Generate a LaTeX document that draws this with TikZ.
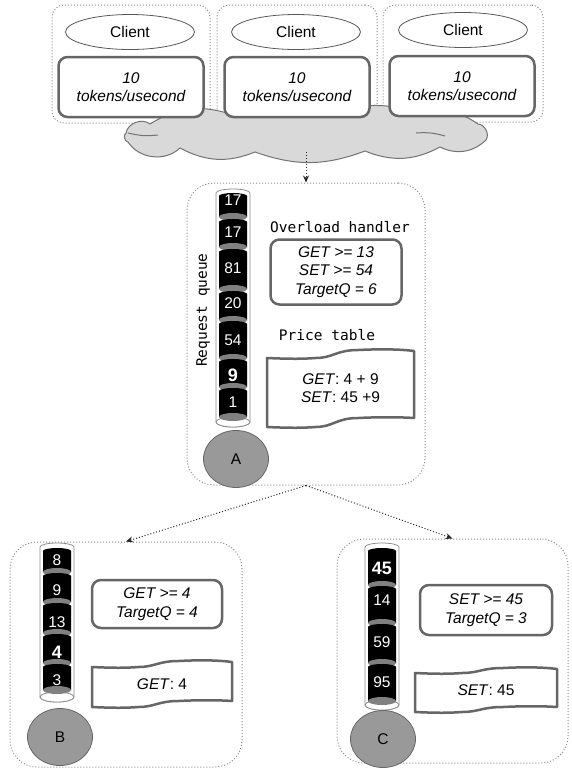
\documentclass[tikz,border=0pt]{standalone}
\usepackage{fontspec}
\setmainfont{Liberation Sans}
\setmonofont{DejaVu Sans Mono}
\usepackage{tikz}
\usetikzlibrary{arrows.meta}
\usetikzlibrary{positioning}
\usetikzlibrary{shapes.geometric}

\newcommand{\hot}[1]{{\fontsize{18}{18}\selectfont\bfseries #1}}

% queue: name, x centre, top, bottom, cells label/top/bottom/text y
\newcommand{\queue}[5]{%
    \draw[tube] (#2-17,#3) arc(180:360:17 and 4) -- (#2+17,#4) arc(0:180:17 and 5) -- cycle;
    \draw[tube] (#2,#4) ellipse (17 and 5);
    \foreach \l/\t/\b/\y [count=\i] in {#5} {
        \fill[black] (#2-14,\t) arc(180:360:14 and 3) -- (#2+14,\b) -- (#2-14,\b) -- cycle;
        \fill[band] (#2,\b) ellipse (14 and 4);
        \node[num] (#1\i) at (#2,\y) {\l};
    }
}

% price table: name, x0, x1, top left, top right, bottom left, bottom right
\newcommand{\pricetag}[7]{%
    \draw[tag] (#2,#4) .. controls ({#2+0.15*(#3-#2)},{#4+1}) and ({#2+0.25*(#3-#2)},{#4+1}) .. ({#2+0.33*(#3-#2)},#4)
        .. controls ({#2+0.45*(#3-#2)},#4) and ({#2+0.47*(#3-#2)},#5) .. ({#2+0.62*(#3-#2)},#5)
        .. controls ({#2+0.75*(#3-#2)},{#5-1}) and ({#2+0.9*(#3-#2)},{#5-1}) .. (#3,{#5+1})
        -- (#3,#7)
        .. controls ({#2+0.9*(#3-#2)},{#7-1}) and ({#2+0.75*(#3-#2)},{#7-1}) .. ({#2+0.62*(#3-#2)},#7)
        .. controls ({#2+0.47*(#3-#2)},#7) and ({#2+0.45*(#3-#2)},#6) .. ({#2+0.33*(#3-#2)},#6)
        .. controls ({#2+0.25*(#3-#2)},{#6+1}) and ({#2+0.15*(#3-#2)},{#6+1}) .. (#2,#6)
        -- cycle;
    \coordinate (#1) at ({(#2+#3)/2},{(#4+#7)/2});
}

\begin{document}
\begin{tikzpicture}[x=1pt, y=-1pt, >=Stealth, font=\fontsize{15.5}{18.5}\selectfont]
    \tikzset{
        group/.style={draw=black!45, dotted, line width=1pt, rounded corners=12pt},
        bigbox/.style={draw=black!45, dotted, line width=1pt, rounded corners=27pt},
        client/.style={ellipse, draw=black!65, fill=white, line width=0.8pt, minimum width=129pt, minimum height=35pt},
        rate/.style={draw=black!60, fill=white, line width=2.5pt, rounded corners=9pt, align=center, font=\fontsize{15.5}{18.5}\selectfont\itshape},
        handler/.style={rate},
        tag/.style={draw=black!60, fill=white, line width=2.5pt, line join=round},
        tube/.style={draw=black!45, fill=white, line width=0.8pt},
        band/.style={fill=black!50},
        num/.style={text=white, inner sep=0pt},
        server/.style={ellipse, draw=black!60, fill=black!40, line width=0.8pt, minimum width=65pt, minimum height=57pt},
        mono/.style={font=\fontsize{14.5}{17}\selectfont\ttfamily},
        puff/.style={fill=black!15, draw=black!55, line width=1pt},
        flow/.style={->, dotted, line width=1pt, draw=black!85, >={Stealth[length=7pt,width=6pt]}}
    }
    \useasboundingbox (0,0) rectangle (572,772);

    % clients
    \node[group, minimum width=158pt, minimum height=118pt] (grp1) at (131,64) {};
    \node[group, minimum width=160pt, minimum height=118pt] (grp2) at (297,64) {};
    \node[group, minimum width=160pt, minimum height=117pt] (grp3) at (463,63.5) {};
    \node[client] (cl1) at (130,32) {Client};
    \node[client] (cl2) at (296,32) {Client};
    \node[client] (cl3) at (463,30) {Client};

    % network cloud
    \draw[puff] (150,124) to[bend left=25] (230,114) to[bend left=20] (330,115)
        to[bend left=20] (420,114) to[bend left=25] (478,124)
        to[bend left=60] (486,140) to[bend left=35] (440,147)
        to[bend left=25] (365,151) to[bend left=20] (255,152)
        to[bend left=25] (180,148) to[bend left=50] (128,142)
        to[bend left=70] (126,133) to[bend left=60] cycle;
    \draw[puff, fill=none] (128,133) to[bend right=10] (158,135);
    \draw[puff, fill=none] (416,133) to[bend left=10] (445,136);
    \coordinate (net) at (306,152);

    \node[rate, minimum width=145pt, minimum height=60pt] (rate1) at (131,87) {10\\tokens/usecond};
    \node[rate, minimum width=145pt, minimum height=60pt] (rate2) at (297,87) {10\\tokens/usecond};
    \node[rate, minimum width=145pt, minimum height=60pt] (rate3) at (462,86) {10\\tokens/usecond};

    % server A
    \node[bigbox, minimum width=238pt, minimum height=302pt] (boxA) at (306,334) {};
    \draw[flow] (net) -- (boxA.north);
    \queue{qA}{233}{193}{422}{17/196/217/200, 17/222/247/232, 81/252/289/268, 20/294/320/303,
        54/324/358/340, \hot{9}/362/387/375, 1/391/417/402}
    \node[server] (srvA) at (236,459) {A};
    \node[mono, rotate=90] (reqA) at (203,310) {Request queue};
    \node[mono] (ovlA) at (340,227) {Overload handler};
    \node[handler, minimum width=131pt, minimum height=65pt] (hdlA) at (336,272)
        {GET >= 13\\SET >= 54\\TargetQ = 6};
    \node[mono] (prcA) at (327,335) {Price table};
    \pricetag{tabA}{267}{414}{358}{350}{427}{418}
    \node[align=center] (tabtxtA) at (tabA) {\textit{GET}: 4 + 9\\\textit{SET}: 45 +9};

    % server B
    \node[bigbox, minimum width=232pt, minimum height=225pt] (boxB) at (126,654.5) {};
    \queue{qB}{57}{547}{697}{8/551/572/560, 9/576/602/590, 13/606/633/622, \hot{4}/637/663/652,
        3/667/690/680}
    \node[server] (srvB) at (60,737) {B};
    \node[handler, minimum width=130pt, minimum height=48pt] (hdlB) at (157,604)
        {GET >= 4\\TargetQ = 4};
    \pricetag{tabB}{92}{232}{667}{661}{707}{701}
    \node (tabtxtB) at (tabB) {\textit{GET}: 4};

    % server C
    \node[bigbox, minimum width=231pt, minimum height=224pt] (boxC) at (452.5,651) {};
    \queue{qC}{382}{547}{705}{\hot{45}/551/585/568, 14/589/623/600, 59/627/663/642, 95/667/701/682}
    \node[server] (srvC) at (383,739) {C};
    \node[handler, minimum width=132pt, minimum height=50pt] (hdlC) at (486,610)
        {SET >= 45\\TargetQ = 3};
    \pricetag{tabC}{415}{557}{673}{668}{712}{707}
    \node (tabtxtC) at (tabC) {\textit{SET}: 45};

    \draw[flow] (boxA.south) -- (boxB.north);
    \draw[flow] (boxA.south) -- (boxC.north);
\end{tikzpicture}
\end{document}
